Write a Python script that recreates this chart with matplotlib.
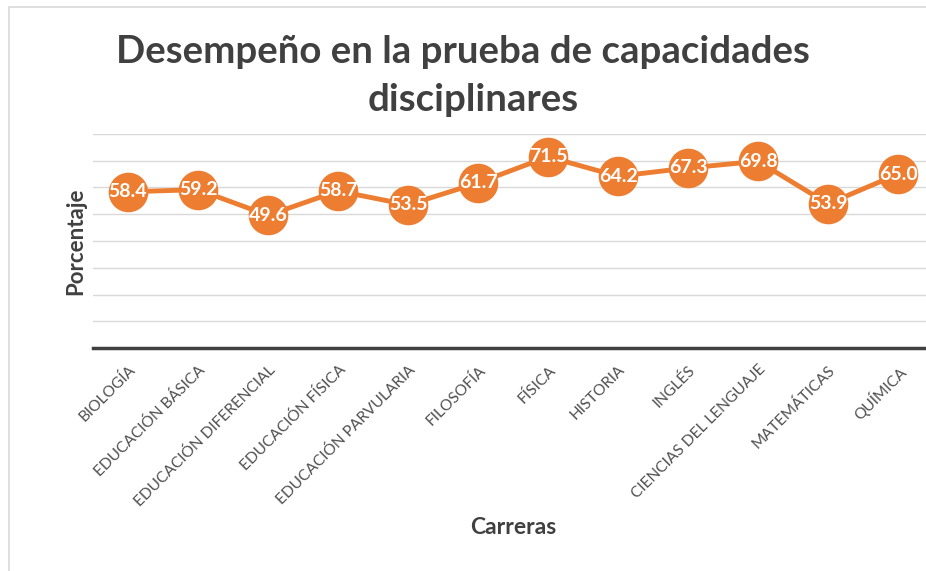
import matplotlib.pyplot as plt
import matplotlib.patches as mpatches
import numpy as np

carreras = ['BIOLOGÍA', 'EDUCACIÓN BÁSICA', 'EDUCACIÓN DIFERENCIAL', 'EDUCACIÓN FÍSICA',
            'EDUCACIÓN PARVULARIA', 'FILOSOFÍA', 'FÍSICA', 'HISTORIA', 'INGLÉS',
            'CIENCIAS DEL LENGUAJE', 'MATEMÁTICAS', 'QUÍMICA']
porcentaje = [58.4, 59.2, 49.6, 58.7, 53.5, 61.7, 71.5, 64.2, 67.3, 69.8, 53.9, 65.0]

naranja = '#ED7D31'
gris = '#404040'
plt.rcParams['font.family'] = ['Lato', 'DejaVu Sans']

W, H = 926, 571
fig = plt.figure(figsize=(W / 100, H / 100), dpi=100)

# chart border (only left and top visible in the crop)
fig.patches.append(mpatches.Rectangle((9 / W, -0.1), 1.2, (H - 7) / H + 0.1,
                                      transform=fig.transFigure, fill=False,
                                      edgecolor='#d9d9d9', linewidth=1.2))

ax = fig.add_axes([93 / W, 1 - 348 / H, 840 / W, (348 - 134) / H])
x = np.arange(len(carreras))
ax.plot(x, porcentaje, color=naranja, lw=3.5, marker='o', markersize=27.5,
        markerfacecolor=naranja, markeredgecolor=naranja, zorder=3)
for xi, v in zip(x, porcentaje):
    ax.text(xi, v, f'{v:.1f}', color='white', fontsize=14, fontweight='bold',
            ha='center', va='center', zorder=4)

ax.set_xlim(-0.5, len(carreras) - 0.5)
ax.set_ylim(0, 80)
ax.set_yticks(np.arange(10, 81, 10))
ax.yaxis.grid(True, color='#d9d9d9', lw=1)
ax.set_axisbelow(True)
ax.tick_params(axis='y', left=False, labelleft=False)
ax.tick_params(axis='x', bottom=False, pad=7)
for s in ['top', 'right', 'left']:
    ax.spines[s].set_visible(False)
ax.spines['bottom'].set_color(gris)
ax.spines['bottom'].set_linewidth(2.5)

ax.set_xticks(x)
ax.set_xticklabels(carreras, rotation=45, ha='right', va='top', rotation_mode='anchor',
                   fontsize=11.2, color='#505050')

fig.text(463 / W, 1 - 52 / H, 'Desempeño en la prueba de capacidades', ha='center',
         va='center', fontsize=27.6, fontweight='bold', color=gris)
fig.text(473 / W, 1 - 100 / H, 'disciplinares', ha='center',
         va='center', fontsize=27.6, fontweight='bold', color=gris)
fig.text(76 / W, 1 - 241 / H, 'Porcentaje', rotation=90, ha='center', va='center',
         fontsize=16, fontweight='bold', color=gris)
fig.text(513 / W, 1 - 527 / H, 'Carreras', ha='center', va='center',
         fontsize=16.5, fontweight='bold', color=gris)

fig.savefig('out.png', dpi=100)
